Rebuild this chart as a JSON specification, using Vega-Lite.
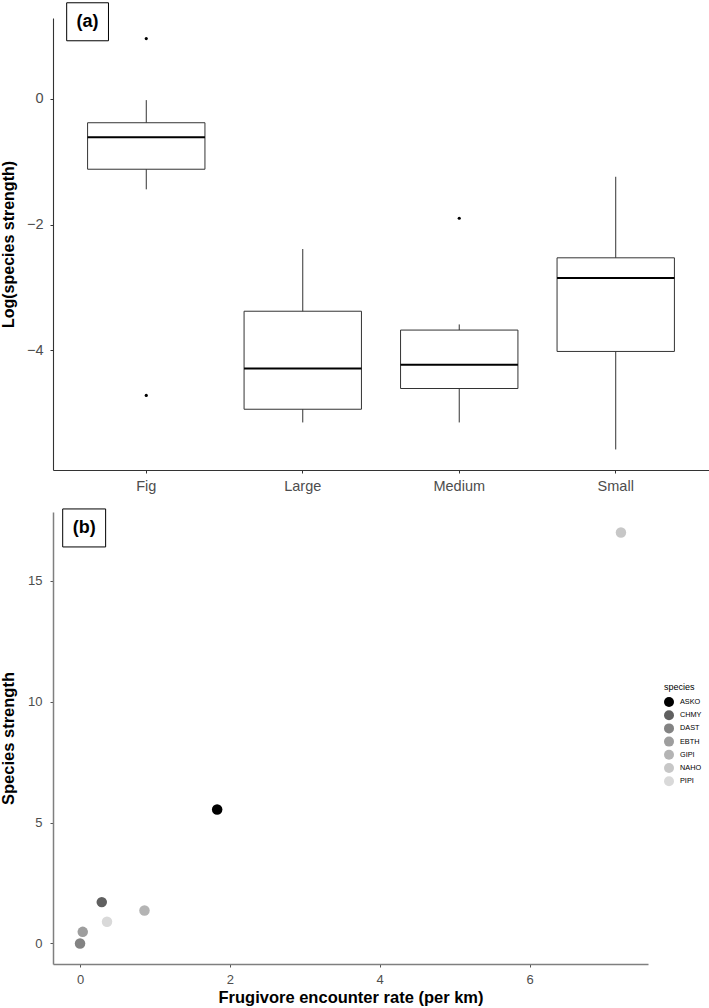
{
  "$schema": "https://vega.github.io/schema/vega-lite/v6.json",
  "background": "white",
  "padding": {"left": 0, "top": 0, "right": 0, "bottom": 0},
  "spacing": 13,
  "config": {
    "view": {"stroke": null},
    "font": "Liberation Sans",
    "axis": {"grid": false, "labelFont": "Liberation Sans", "titleFont": "Liberation Sans", "labelColor": "#4d4d4d", "titleColor": "#000000", "titleFontWeight": "bold", "tickSize": 3}
  },
  "datasets": {
    "boxes": [
      {"group": "Fig", "lower": -1.44, "q1": -1.12, "median": -0.61, "q3": -0.38, "upper": -0.02},
      {"group": "Large", "lower": -5.15, "q1": -4.94, "median": -4.29, "q3": -3.38, "upper": -2.39},
      {"group": "Medium", "lower": -5.15, "q1": -4.61, "median": -4.23, "q3": -3.68, "upper": -3.59},
      {"group": "Small", "lower": -5.58, "q1": -4.02, "median": -2.85, "q3": -2.53, "upper": -1.24}
    ],
    "outliers": [
      {"group": "Fig", "value": 0.96},
      {"group": "Fig", "value": -4.72},
      {"group": "Medium", "value": -1.9}
    ],
    "strength": [
      {"species": "ASKO", "rate": 1.83, "strength": 5.54},
      {"species": "CHMY", "rate": 0.29, "strength": 1.71},
      {"species": "DAST", "rate": 0.0, "strength": 0.0},
      {"species": "EBTH", "rate": 0.036, "strength": 0.48},
      {"species": "GIPI", "rate": 0.86, "strength": 1.36},
      {"species": "NAHO", "rate": 7.22, "strength": 17.0},
      {"species": "PIPI", "rate": 0.36, "strength": 0.9}
    ]
  },
  "vconcat": [
    {
      "width": 656,
      "height": 452,
      "layer": [
        {
          "data": {"name": "boxes"},
          "mark": {"type": "rule", "color": "#333333", "strokeWidth": 1},
          "encoding": {
            "x": {"field": "group", "type": "nominal",
              "scale": {"type": "band", "domain": ["Fig", "Large", "Medium", "Small"], "paddingInner": 0.25, "paddingOuter": 0.221},
              "axis": {"title": null, "labelAngle": 0, "labelFontSize": 14.5, "labelPadding": 6, "domainColor": "#333333", "domainWidth": 1.1, "tickColor": "#333333", "tickSize": 3}},
            "y": {"field": "lower", "type": "quantitative",
              "scale": {"domain": [-5.907, 1.287], "nice": false, "zero": false},
              "axis": {"title": "Log(species strength)", "values": [-4, -2, 0], "format": "d", "titleFontSize": 16, "labelFontSize": 14.5, "labelPadding": 7, "titlePadding": 9.5, "domainColor": "#333333", "domainWidth": 1.1, "tickColor": "#333333", "tickSize": 3}},
            "y2": {"field": "upper"}
          }
        },
        {
          "data": {"name": "boxes"},
          "mark": {"type": "bar", "fill": "white", "stroke": "#333333", "strokeWidth": 1},
          "encoding": {
            "x": {"field": "group", "type": "nominal"},
            "y": {"field": "q1", "type": "quantitative"},
            "y2": {"field": "q3"}
          }
        },
        {
          "data": {"name": "boxes"},
          "mark": {"type": "bar", "fill": "black", "stroke": "black", "strokeWidth": 2},
          "encoding": {
            "x": {"field": "group", "type": "nominal"},
            "y": {"field": "median", "type": "quantitative"},
            "y2": {"field": "median"}
          }
        },
        {
          "data": {"name": "outliers"},
          "mark": {"type": "circle", "color": "black", "size": 10, "opacity": 1},
          "encoding": {
            "x": {"field": "group", "type": "nominal"},
            "y": {"field": "value", "type": "quantitative"}
          }
        },
        {
          "data": {"values": [{"label": "(a)"}]},
          "mark": {"type": "point", "shape": "M-1.1,-1L1.1,-1L1.1,1L-1.1,1Z", "size": 1444, "filled": false, "stroke": "black", "strokeWidth": 1, "opacity": 1},
          "encoding": {
            "x": {"datum": "Fig", "type": "nominal", "bandPosition": 0},
            "y": {"datum": 1.227, "type": "quantitative"}
          }
        },
        {
          "data": {"values": [{"label": "(a)"}]},
          "mark": {"type": "text", "font": "Liberation Sans", "fontSize": 18, "fontWeight": "bold", "align": "center", "baseline": "middle", "color": "black"},
          "encoding": {
            "x": {"datum": "Fig", "type": "nominal", "bandPosition": 0},
            "y": {"datum": 1.227, "type": "quantitative"},
            "text": {"field": "label"}
          }
        }
      ]
    },
    {
      "width": 595,
      "height": 452,
      "layer": [
        {
          "data": {"name": "strength"},
          "mark": {"type": "circle", "size": 110, "opacity": 1},
          "encoding": {
            "x": {"field": "rate", "type": "quantitative",
              "scale": {"domain": [-0.361, 7.581], "nice": false, "zero": false},
              "axis": {"title": "Frugivore encounter rate (per km)", "values": [0, 2, 4, 6], "format": "d", "titleFontSize": 16.5, "labelFontSize": 13, "labelPadding": 6.5, "titlePadding": 3, "domainColor": "#7f7f7f", "domainWidth": 1.5, "tickColor": "#555555", "tickSize": 3}},
            "y": {"field": "strength", "type": "quantitative",
              "scale": {"domain": [-0.85, 17.85], "nice": false, "zero": false},
              "axis": {"title": "Species strength", "values": [0, 5, 10, 15], "format": "d", "titleFontSize": 16.5, "labelFontSize": 13, "labelPadding": 8, "titlePadding": 11, "domainColor": "#7f7f7f", "domainWidth": 1.5, "tickColor": "#555555", "tickSize": 3}},
            "color": {"field": "species", "type": "nominal",
              "scale": {"domain": ["ASKO", "CHMY", "DAST", "EBTH", "GIPI", "NAHO", "PIPI"], "range": ["#000000", "#606060", "#838383", "#9e9e9e", "#b4b4b4", "#c7c7c7", "#d9d9d9"]},
              "legend": {"orient": "none", "legendX": 611, "legendY": 664.5, "title": "species", "titleFont": "Liberation Sans", "titleFontSize": 9, "titleFontWeight": "normal", "titleColor": "black", "titlePadding": 5.5, "labelFont": "Liberation Sans", "labelFontSize": 7.3, "labelColor": "black", "symbolSize": 100, "symbolType": "circle", "symbolStrokeWidth": 0, "symbolOpacity": 1, "rowPadding": 3.2, "labelOffset": 6, "padding": 0}}
          }
        },
        {
          "data": {"values": [{"label": "(b)"}]},
          "mark": {"type": "point", "shape": "M-1.13,-1L1.13,-1L1.13,1L-1.13,1Z", "size": 1444, "filled": false, "stroke": "black", "strokeWidth": 1, "opacity": 1},
          "encoding": {
            "x": {"datum": 0.055, "type": "quantitative"},
            "y": {"datum": 17.19, "type": "quantitative"}
          }
        },
        {
          "data": {"values": [{"label": "(b)"}]},
          "mark": {"type": "text", "font": "Liberation Sans", "fontSize": 18, "fontWeight": "bold", "align": "center", "baseline": "middle", "color": "black"},
          "encoding": {
            "x": {"datum": 0.055, "type": "quantitative"},
            "y": {"datum": 17.19, "type": "quantitative"},
            "text": {"field": "label"}
          }
        }
      ]
    }
  ]
}
